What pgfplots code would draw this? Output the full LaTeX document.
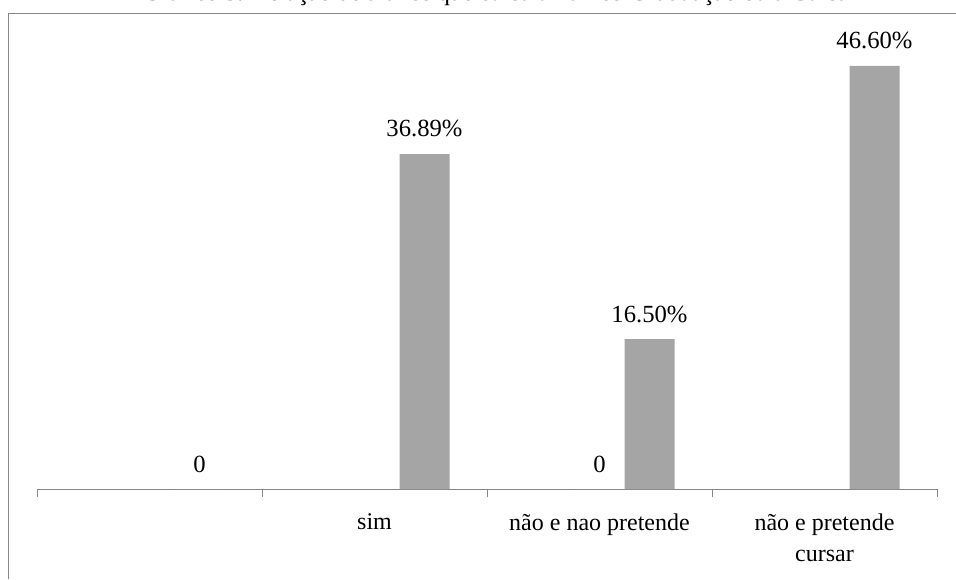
\documentclass[border=0pt]{standalone}
\usepackage{fontspec}
\setmainfont{Liberation Serif}
\usepackage{pgfplots}
\pgfplotsset{compat=1.18}
\definecolor{bargray}{RGB}{165,165,165}
\definecolor{linegray}{RGB}{134,134,134}
\begin{document}
\begin{tikzpicture}
\useasboundingbox (0,0) rectangle (717pt,434.25pt);
\draw[linegray, line width=0.75pt] (6pt,0) -- (6pt,423.75pt) -- (717pt,423.75pt);
\node[anchor=base, inner sep=0pt, font=\fontsize{18.5}{22}\selectfont] at (375pt,433.75pt) {Gráfico 5: Relação de alunos que cursa uma Pós-Graduação ou a Cursar};
\begin{axis}[
  at={(27.75pt,67.5pt)}, anchor=south west,
  scale only axis, width=675pt, height=340.5pt,
  xmin=-0.5, xmax=3.5, ymin=0, ymax=50,
  axis y line=none,
  axis x line*=bottom,
  x axis line style={linegray, line width=0.75pt, -},
  xtick={0,1,2,3},
  xticklabels={{},sim,não e nao pretende,{não e pretende\\cursar}},
  major x tick style={draw=none},
  minor xtick={-0.5,0.5,1.5,2.5,3.5},
  minor x tick style={linegray, line width=0.75pt},
  minor tick length=6pt,
  major tick length=0pt,
  tick align=outside,
  xticklabel style={font=\fontsize{18}{23.25}\selectfont, align=center, anchor=north, yshift=-15pt},
  every node near coord/.append style={font=\fontsize{18.5}{22}\selectfont, black, yshift=9pt},
  point meta=explicit symbolic,
  clip=false,
]
\addplot[ybar, bar width=37.5pt, bar shift=0pt, fill=bargray, draw=none, nodes near coords]
  coordinates {(2,0) [0]};
\addplot[ybar, bar width=37.5pt, bar shift=37.5pt, fill=bargray, draw=none, nodes near coords,
  every node near coord/.append style={xshift=37.5pt}]
  coordinates {(0,0) [0] (1,36.89) [36.89\%] (2,16.50) [16.50\%] (3,46.60) [46.60\%]};
\end{axis}
\end{tikzpicture}
\end{document}
